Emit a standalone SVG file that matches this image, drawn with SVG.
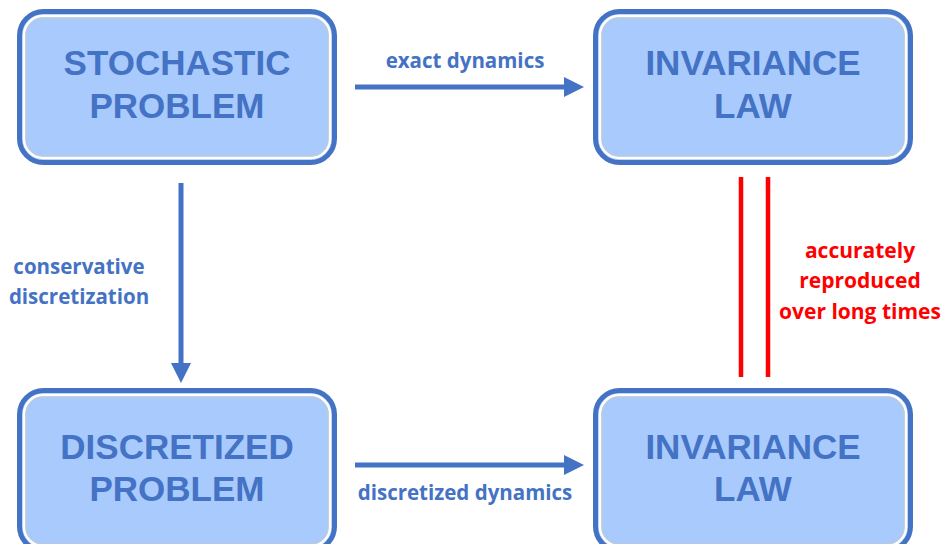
<svg xmlns="http://www.w3.org/2000/svg" width="944" height="544" viewBox="0 0 944 544">
<defs>
<style>
.box{fill:#A8CAFD;stroke:#4472C4;stroke-width:5}
.ring{fill:none;stroke:#FFFFFF;stroke-width:2.5}
.shade{fill:none;stroke:#C9C9C9;stroke-width:1}
.title{font-family:"Liberation Sans",Arial,sans-serif;font-weight:bold;font-size:35px;fill:#4472C4;text-anchor:middle}
.lbl{font-family:"Open Sans","Noto Sans",sans-serif;font-weight:bold;font-size:20.5px;fill:#4472C4;text-anchor:middle}
.red{font-family:"Open Sans","Noto Sans",sans-serif;font-weight:bold;font-size:21px;fill:#FF0000;text-anchor:middle}
.conn{stroke:#4472C4;stroke-width:5;fill:none}
.eq{stroke:#FF0000;stroke-width:4.5;fill:none}
</style>
<marker id="ah" markerWidth="4" markerHeight="4" refX="0" refY="2" orient="auto" markerUnits="strokeWidth" viewBox="0 0 4 4">
<path d="M0,0 L4,2 L0,4 Z" fill="#4472C4"/>
</marker>
</defs>
<g id="n1">
<rect class="box" x="19.5" y="11.5" width="315" height="151" rx="24"/>
<rect class="ring" x="24" y="16" width="306" height="142" rx="19"/>
<rect class="shade" x="26" y="18" width="302" height="138" rx="17"/>
<text class="title" x="177" y="75">STOCHASTIC</text>
<text class="title" x="177" y="118">PROBLEM</text>
</g>
<g id="n2">
<rect class="box" x="595.5" y="11.5" width="315" height="151" rx="24"/>
<rect class="ring" x="600" y="16" width="306" height="142" rx="19"/>
<rect class="shade" x="602" y="18" width="302" height="138" rx="17"/>
<text class="title" x="753" y="75">INVARIANCE</text>
<text class="title" x="753" y="118">LAW</text>
</g>
<g id="n3">
<rect class="box" x="19.5" y="390.5" width="315" height="160" rx="24"/>
<rect class="ring" x="24" y="395" width="306" height="151" rx="19"/>
<rect class="shade" x="26" y="397" width="302" height="147" rx="17"/>
<text class="title" x="177" y="459">DISCRETIZED</text>
<text class="title" x="177" y="501">PROBLEM</text>
</g>
<g id="n4">
<rect class="box" x="595.5" y="390.5" width="315" height="160" rx="24"/>
<rect class="ring" x="600" y="395" width="306" height="151" rx="19"/>
<rect class="shade" x="602" y="397" width="302" height="147" rx="17"/>
<text class="title" x="753" y="459">INVARIANCE</text>
<text class="title" x="753" y="501">LAW</text>
</g>
<g id="connectors">
<line class="conn" x1="355" y1="87" x2="564" y2="87" marker-end="url(#ah)"/>
<line class="conn" x1="181" y1="183" x2="181" y2="363" marker-end="url(#ah)"/>
<line class="conn" x1="355" y1="465" x2="564" y2="465" marker-end="url(#ah)"/>
<line class="eq" x1="741" y1="177" x2="741" y2="377"/>
<line class="eq" x1="768" y1="177" x2="768" y2="377"/>
<text class="lbl" x="465" y="68">exact dynamics</text>
<text class="lbl" x="79" y="274">conservative</text>
<text class="lbl" x="79" y="304">discretization</text>
<text class="lbl" x="465" y="500">discretized dynamics</text>
<text class="red" x="860" y="258">accurately</text>
<text class="red" x="860" y="288">reproduced</text>
<text class="red" x="860" y="319">over long times</text>
</g>
</svg>
